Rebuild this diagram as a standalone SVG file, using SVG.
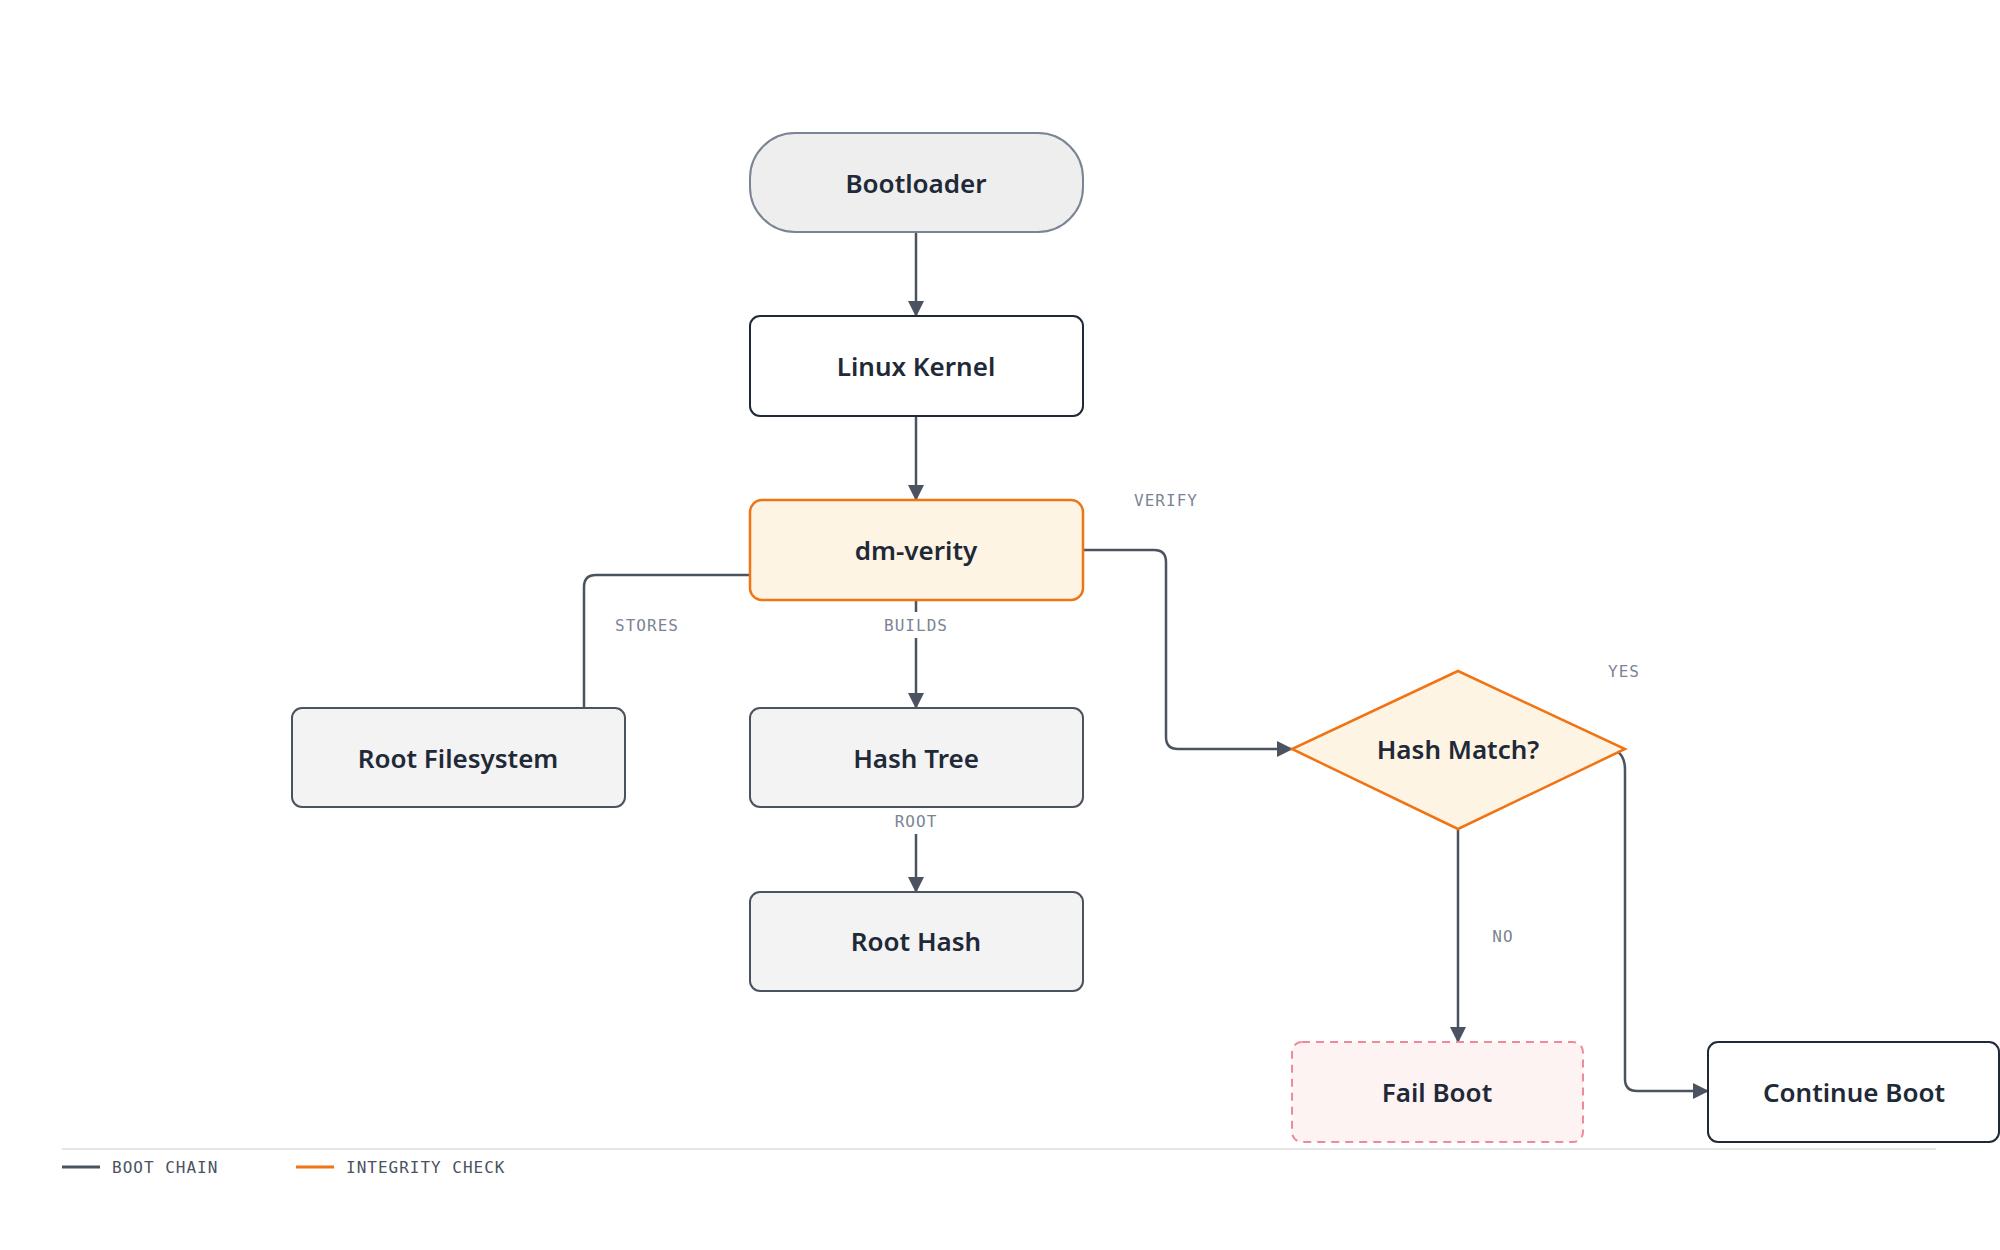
<svg xmlns="http://www.w3.org/2000/svg" width="2000" height="1250" viewBox="0 0 2000 1250">
<style>
.t{font-family:"Noto Sans",sans-serif;font-weight:600;font-size:26px;fill:#1f2937;text-anchor:middle;dominant-baseline:central}
.l{font-family:"DejaVu Sans Mono","Liberation Mono",monospace;font-size:16px;fill:#7b8494;text-anchor:middle;dominant-baseline:central;letter-spacing:1px}
.c{fill:none;stroke:#4b5260;stroke-width:2.5}
.g{fill:#f3f3f3;stroke:#4b5260;stroke-width:2}
.lg{font-family:"DejaVu Sans Mono","Liberation Mono",monospace;font-size:16px;fill:#4b5260;dominant-baseline:central;letter-spacing:1px}
</style>
<defs><marker id="a" markerWidth="10" markerHeight="10" refX="9" refY="5" orient="auto" markerUnits="userSpaceOnUse" viewBox="0 0 10 10"><path d="M0,0L10,5L0,10z" fill="#4b5260"/></marker>
<marker id="b" markerWidth="16" markerHeight="16" refX="15" refY="8" orient="auto" markerUnits="userSpaceOnUse" viewBox="0 0 16 16"><path d="M0,0L16,8L0,16z" fill="#4b5260"/></marker></defs>
<rect width="2000" height="1250" fill="#fff"/>
<g id="connectors">
<path class="c" d="M916,232V316" marker-end="url(#b)"/>
<path class="c" d="M916,416V500" marker-end="url(#b)"/>
<path class="c" d="M916,600V708" marker-end="url(#b)"/>
<path class="c" d="M916,807V892" marker-end="url(#b)"/>
<path class="c" d="M750,575H596Q584,575 584,587V708"/>
<path class="c" d="M1083,550H1154Q1166,550 1166,562V737Q1166,749 1178,749H1292" marker-end="url(#b)"/>
<path class="c" d="M1458,829V1042" marker-end="url(#b)"/>
<path class="c" d="M1618,752Q1625,757 1625,770V1079Q1625,1091 1637,1091H1708" marker-end="url(#b)"/>
<rect x="880" y="612" width="72" height="26" fill="#fff"/>
<rect x="890" y="808" width="52" height="26" fill="#fff"/>
<text class="l" x="1166" y="500">VERIFY</text>
<text class="l" x="647" y="625">STORES</text>
<text class="l" x="916" y="625">BUILDS</text>
<text class="l" x="916" y="821">ROOT</text>
<text class="l" x="1624" y="671">YES</text>
<text class="l" x="1503" y="936">NO</text>
</g>
<g id="bootloader"><rect x="750" y="133" width="333" height="99" rx="45" fill="#eeeeee" stroke="#7b8494" stroke-width="2"/><text class="t" x="916" y="183">Bootloader</text></g>
<g id="kernel"><rect x="750" y="316" width="333" height="100" rx="10" fill="#fff" stroke="#1f2937" stroke-width="2"/><text class="t" x="916" y="366">Linux Kernel</text></g>
<g id="dmverity"><rect x="750" y="500" width="333" height="100" rx="12" fill="#fdf4e4" stroke="#f07314" stroke-width="2.5"/><text class="t" x="916" y="550">dm-verity</text></g>
<g id="rootfs"><rect x="292" y="708" width="333" height="99" rx="10" class="g"/><text class="t" x="458" y="758">Root Filesystem</text></g>
<g id="hashtree"><rect x="750" y="708" width="333" height="99" rx="10" class="g"/><text class="t" x="916" y="758">Hash Tree</text></g>
<g id="roothash"><rect x="750" y="892" width="333" height="99" rx="10" class="g"/><text class="t" x="916" y="941">Root Hash</text></g>
<g id="hashmatch"><polygon points="1458,671 1625,749 1458,829 1292,749" fill="#fdf4e4" stroke="#f07314" stroke-width="2.5"/><text class="t" x="1458" y="749">Hash Match?</text></g>
<g id="failboot"><rect x="1292" y="1042" width="291" height="100" rx="10" fill="#fef3f3" stroke="#f08a98" stroke-width="2" stroke-dasharray="8,6"/><text class="t" x="1437" y="1092">Fail Boot</text></g>
<g id="continueboot"><rect x="1708" y="1042" width="291" height="100" rx="10" fill="#fff" stroke="#1f2937" stroke-width="2"/><text class="t" x="1854" y="1092">Continue Boot</text></g>
<g id="legend">
<line x1="62" y1="1149" x2="1936" y2="1149" stroke="#e6e6e6" stroke-width="2"/>
<line x1="62" y1="1167" x2="100" y2="1167" stroke="#4b5260" stroke-width="3"/>
<text class="lg" x="112" y="1167">BOOT CHAIN</text>
<line x1="296" y1="1167" x2="334" y2="1167" stroke="#f07314" stroke-width="3"/>
<text class="lg" x="346" y="1167">INTEGRITY CHECK</text>
</g>
</svg>
